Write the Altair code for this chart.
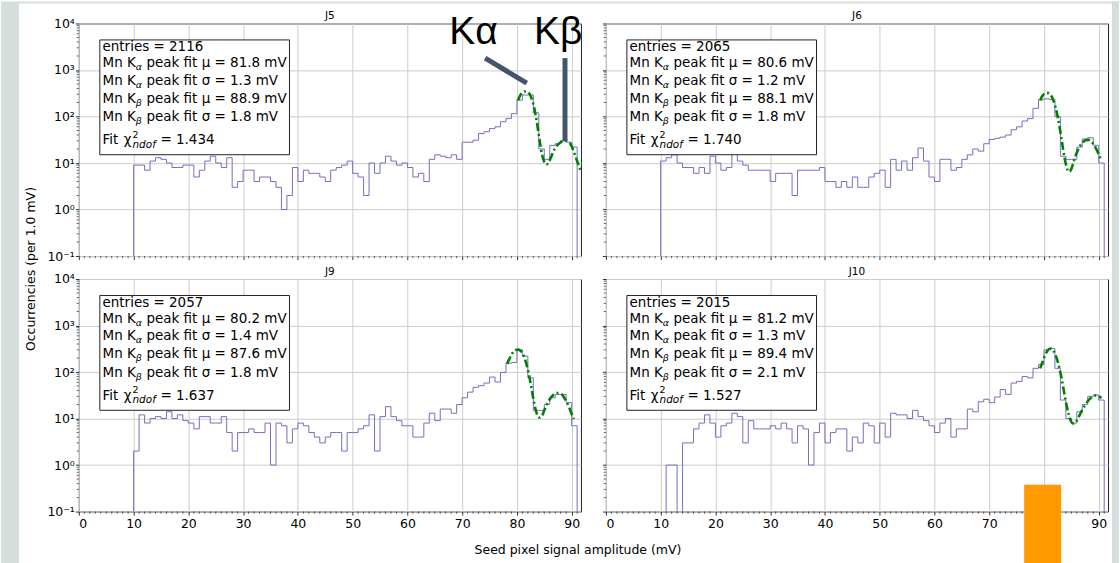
import altair as alt
import pandas as pd

# ---------------- data ----------------
panel_names = ["J5", "J6", "J9", "J10"]
first_bin = 10      # lower edge of first 1 mV bin
bin_width = 1.0

counts_J5 = [9, 9, 7, 11, 13, 12, 10, 8, 8, 9,
             9, 5, 7, 11, 14, 10, 8, 13, 3, 4,
             7, 7, 4, 5, 5, 4, 3, 1, 2, 8,
             4, 7, 6, 6, 5, 4, 7, 8, 9, 11,
             6, 5, 2, 10, 6, 10, 14, 11, 9, 10,
             8, 5, 6, 4, 12, 15, 14, 13, 15, 12,
             28, 28, 31, 43, 47, 55, 60, 77, 90, 115,
             225, 290, 290, 120, 20, 12, 24, 26, 30, 28,
             22]
counts_J6 = [11, 13, 15, 10, 8, 8, 6, 8, 6, 14,
             10, 7, 8, 16, 11, 9, 7, 7, 7, 7,
             4, 6, 6, 6, 2, 7, 7, 7, 7, 8,
             4, 4, 3, 4, 3, 5, 3, 3, 5, 6,
             7, 3, 12, 7, 11, 7, 13, 21, 11, 5,
             4, 12, 12, 7, 8, 12, 15, 20, 18, 26,
             32, 34, 36, 40, 52, 60, 80, 90, 150, 230,
             240, 230, 100, 14, 12, 12, 22, 33, 35, 24,
             10]
counts_J9 = [2, 12, 8, 10, 11, 10, 14, 10, 12, 9,
             8, 6, 11, 11, 8, 8, 11, 5, 2, 5,
             5, 6, 5, 5, 8, 1, 8, 7, 3, 6,
             8, 7, 5, 4, 3, 4, 5, 5, 2, 5,
             5, 6, 7, 12, 2, 11, 18, 11, 9, 7,
             7, 4, 4, 8, 13, 9, 16, 16, 13, 20,
             28, 37, 47, 51, 58, 78, 61, 98, 155, 160,
             300, 220, 75, 15, 15, 20, 28, 33, 33, 22,
             7]
counts_J10 = [0, 1, 1, 0, 3, 3, 6, 8, 12, 8,
              4, 7, 8, 13, 11, 3, 9, 6, 6, 6,
              7, 6, 8, 6, 3, 7, 6, 1, 5, 8,
              3, 5, 6, 6, 2, 4, 3, 8, 7, 3,
              8, 4, 13, 12, 12, 10, 15, 11, 9, 7,
              5, 8, 10, 4, 6, 6, 16, 14, 23, 26,
              22, 29, 42, 33, 58, 63, 80, 75, 120, 145,
              300, 320, 120, 25, 10, 8, 14, 20, 30, 32,
              25]

fit_x_J5 = [80.2, 80.6, 81.0, 81.4, 81.8, 82.2, 82.6, 83.0, 83.4, 83.8, 84.2, 84.6, 85.0, 85.4,
            85.8, 86.2, 86.6, 87.0, 87.5, 88.0, 88.5, 89.0, 89.5, 90.0, 90.5, 91.0, 91.7]
fit_y_J5 = [220, 285, 325, 345, 345, 320, 260, 185, 110, 58, 28, 15, 10.5, 9.3,
            10.5, 13, 17, 21, 25, 28, 30, 30, 28, 23, 16, 11, 6.5]
fit_x_J6 = [79.3, 79.7, 80.1, 80.5, 80.9, 81.3, 81.7, 82.1, 82.5, 82.9, 83.3, 83.7, 84.1, 84.5,
            84.9, 85.3, 85.7, 86.1, 86.6, 87.1, 87.6, 88.1, 88.6, 89.1, 89.6, 90.1, 90.5]
fit_y_J6 = [220, 275, 310, 322, 315, 285, 225, 160, 100, 55, 28, 14, 8.5, 6.5,
            7, 9.5, 13.5, 18, 23.5, 28, 31, 31.5, 29, 25, 19.5, 14.5, 11.5]
fit_x_J9 = [78.2, 78.6, 79.0, 79.4, 79.8, 80.2, 80.6, 81.0, 81.4, 81.8, 82.2, 82.6, 83.0, 83.4, 83.8,
            84.2, 84.6, 85.0, 85.4, 85.9, 86.4, 86.9, 87.4, 87.9, 88.4, 88.9, 89.4, 89.9, 90.4]
fit_y_J9 = [150, 190, 235, 275, 298, 305, 290, 255, 200, 140, 88, 50, 27, 16, 11.5,
            10.5, 11.5, 15, 19.5, 25, 30, 34, 35.5, 35, 31, 25, 19, 13.5, 9.8]
fit_x_J10 = [79.3, 79.7, 80.1, 80.5, 80.9, 81.3, 81.7, 82.1, 82.5, 82.9, 83.3, 83.7, 84.1, 84.5,
             84.9, 85.3, 85.7, 86.1, 86.6, 87.1, 87.6, 88.1, 88.6, 89.1, 89.6, 90.1, 90.5]
fit_y_J10 = [120, 160, 215, 270, 310, 318, 290, 235, 170, 110, 65, 36, 20, 12.5,
             9, 7.8, 8, 9.5, 12.5, 16, 20, 24.5, 28, 30.5, 31.5, 30, 27.5]

entries = [2116, 2065, 2057, 2015]
mu_alpha = ["81.8", "80.6", "80.2", "81.2"]
sigma_alpha = ["1.3", "1.2", "1.4", "1.3"]
mu_beta = ["88.9", "88.1", "87.6", "89.4"]
sigma_beta = ["1.8", "1.8", "1.8", "2.1"]
chi2 = ["1.434", "1.740", "1.637", "1.527"]

x_major = [0, 10, 20, 30, 40, 50, 60, 70, 80, 90]
x_minor = [v for v in range(1, 92) if v % 10]
y_major = [0.1, 1, 10, 100, 1000, 10000]
y_minor = [round(d * k, 6) for d in [0.1, 1, 10, 100, 1000] for k in range(2, 10)]

x_title = "Seed pixel signal amplitude (mV)"
y_title = "Occurrencies (per 1.0 mV)"

# ---------------- style ----------------
W, H = 503, 233
FONT = "DejaVu Sans"
HIST_COLOR = "#7070bd"
FIT_COLOR = "#008000"
GRID = "#cccccc"
STRIP = "#d5dedc"
ANNOT = "#44546a"
ORANGE = "#ff9900"

one = pd.DataFrame({"k": [0]})


def step_frame(counts):
    floor = 0.01
    xs = [first_bin] + [first_bin + k * bin_width for k in range(len(counts))] + [first_bin + len(counts) * bin_width]
    ys = [floor] + [c if c > 0 else floor for c in counts] + [floor]
    return pd.DataFrame({"x": xs, "y": ys, "i": list(range(len(xs)))})


def text_frames(i):
    TX = 23.7
    B = [28, 44, 61.5, 79.5, 98, 121]
    FS, FSS = 13.5, 9.5
    normal = [
        (TX, B[0], f"entries = {entries[i]}", FS),
        (TX, B[1], "Mn K", FS), (TX + 44, B[1], f"peak fit μ = {mu_alpha[i]} mV", FS),
        (TX, B[2], "Mn K", FS), (TX + 44, B[2], f"peak fit σ = {sigma_alpha[i]} mV", FS),
        (TX, B[3], "Mn K", FS), (TX + 44, B[3], f"peak fit μ = {mu_beta[i]} mV", FS),
        (TX, B[4], "Mn K", FS), (TX + 44, B[4], f"peak fit σ = {sigma_beta[i]} mV", FS),
        (TX, B[5], "Fit", FS), (TX + 21.3, B[5], "χ", FS), (TX + 30, B[5] - 6.5, "2", FSS),
        (TX + 58, B[5], f"= {chi2[i]}", FS),
    ]
    italic = [
        (TX + 33.2, B[1] + 3, "α", FSS),
        (TX + 33.2, B[2] + 3, "α", FSS),
        (TX + 33.2, B[3] + 3, "β", FSS),
        (TX + 33.2, B[4] + 3, "β", FSS),
        (TX + 30, B[5] + 3.5, "ndof", 10.5),
    ]
    cols = ["px", "py", "t", "fs"]
    return pd.DataFrame(normal, columns=cols), pd.DataFrame(italic, columns=cols)


ylabel_expr = ("datum.value < 0.5 ? '10⁻¹' : datum.value < 5 ? '10⁰' : datum.value < 50 ? '10¹' : "
               "datum.value < 500 ? '10²' : datum.value < 5000 ? '10³' : '10⁴'")


def fixed_rect(x1, x2, y1, y2, color):
    return alt.Chart(one).mark_rect(color=color).encode(
        x=alt.value(x1), x2=alt.value(x2), y=alt.value(y1), y2=alt.value(y2))


def make_panel(i, counts, fx, fy, show_x_labels, show_y_labels, before=(), after=()):
    xs = alt.Scale(domain=[0, 91.7], nice=False, zero=False)
    ys = alt.Scale(type="log", domain=[0.1, 10000], nice=False)
    xaxis = alt.Axis(values=x_major, labels=show_x_labels, title=None, grid=True, format="d",
                     orient="bottom", labelPadding=2)
    yaxis = alt.Axis(values=y_major, labels=show_y_labels, title=None, grid=True,
                     labelExpr=ylabel_expr, orient="left", labelPadding=1)

    hist = alt.Chart(step_frame(counts)).mark_line(
        interpolate="step-after", clip=True, color=HIST_COLOR, strokeWidth=1
    ).encode(x=alt.X("x:Q", scale=xs, axis=xaxis), y=alt.Y("y:Q", scale=ys, axis=yaxis),
             order=alt.Order("i:Q"))

    fit = alt.Chart(pd.DataFrame({"x": fx, "y": fy})).mark_line(
        interpolate="monotone", clip=True, color=FIT_COLOR, strokeWidth=2.6,
        strokeDash=[8, 3, 2, 3]
    ).encode(x=alt.X("x:Q", scale=xs, axis=xaxis), y=alt.Y("y:Q", scale=ys, axis=yaxis),
             order=alt.Order("x:Q"))

    xminor = alt.Chart(pd.DataFrame({"x": x_minor})).mark_rule(color="black", strokeWidth=0.6).encode(
        x=alt.X("x:Q", scale=xs, axis=xaxis), y=alt.value(H), y2=alt.value(H + 2.2))
    yminor = alt.Chart(pd.DataFrame({"y": y_minor})).mark_rule(color="black", strokeWidth=0.6).encode(
        y=alt.Y("y:Q", scale=ys, axis=yaxis), x=alt.value(0), x2=alt.value(-2.2))

    box = alt.Chart(one).mark_rect(fill="white", stroke="#222222", strokeWidth=1).encode(
        x=alt.value(21), x2=alt.value(211), y=alt.value(16.5), y2=alt.value(131.5))

    dn, di = text_frames(i)
    tnorm = alt.Chart(dn).mark_text(align="left", baseline="alphabetic", font=FONT, color="black").encode(
        x=alt.X("px:Q", scale=None), y=alt.Y("py:Q", scale=None),
        text="t:N", size=alt.Size("fs:Q", scale=None, legend=None))
    tital = alt.Chart(di).mark_text(align="left", baseline="alphabetic", font=FONT, color="black",
                                    fontStyle="italic").encode(
        x=alt.X("px:Q", scale=None), y=alt.Y("py:Q", scale=None),
        text="t:N", size=alt.Size("fs:Q", scale=None, legend=None))

    title = alt.Chart(one).mark_text(text=panel_names[i], font=FONT, fontSize=10.5, align="center",
                                     baseline="alphabetic", color="black").encode(
        x=alt.value(W / 2), y=alt.value(-4))

    layers = list(before) + [hist, fit, xminor, yminor, box, tnorm, tital, title] + list(after)
    return alt.layer(*layers).properties(width=W, height=H)


# ---- extras ----
strips = [
    fixed_rect(-78, -60, -22, 541, STRIP),
    fixed_rect(-60, 1042, -22, -20, STRIP),
    fixed_rect(1035, 1042, -22, 541, STRIP),
]

k_alpha_text = alt.Chart(one).mark_text(text="Kα", font="Liberation Sans", fontSize=39, align="left",
                                        baseline="alphabetic", color="black").encode(
    x=alt.value(371), y=alt.value(21))
k_beta_text = alt.Chart(one).mark_text(text="Kβ", font="Liberation Sans", fontSize=39, align="left",
                                       baseline="alphabetic", color="black").encode(
    x=alt.value(456), y=alt.value(21))
k_alpha_line = alt.Chart(one).mark_rule(color=ANNOT, strokeWidth=5, strokeCap="butt").encode(
    x=alt.value(407), y=alt.value(34.7), x2=alt.value(448.7), y2=alt.value(59.7))
k_beta_line = alt.Chart(one).mark_rule(color=ANNOT, strokeWidth=5, strokeCap="butt").encode(
    x=alt.value(487), y=alt.value(34.7), x2=alt.value(487), y2=alt.value(118))

ytitle = alt.Chart(one).mark_text(text=y_title, font=FONT, fontSize=12.5, angle=270, align="center",
                                  baseline="middle", color="black").encode(
    x=alt.value(-48), y=alt.value(246))
xtitle = alt.Chart(one).mark_text(text=x_title, font=FONT, fontSize=12.5, align="center",
                                  baseline="middle", color="black").encode(
    x=alt.value(500), y=alt.value(271))

orange = fixed_rect(419, 456, 206, 285, ORANGE)

p5 = make_panel(0, counts_J5, fit_x_J5, fit_y_J5, False, True, before=strips,
                after=[ytitle, k_alpha_text, k_beta_text, k_alpha_line, k_beta_line])
p6 = make_panel(1, counts_J6, fit_x_J6, fit_y_J6, False, False)
p9 = make_panel(2, counts_J9, fit_x_J9, fit_y_J9, True, True, after=[xtitle])
p10 = make_panel(3, counts_J10, fit_x_J10, fit_y_J10, True, False, after=[orange])

chart = alt.concat(p5, p6, p9, p10, columns=2, spacing={"row": 23, "column": 25}, bounds="flush").properties(
    padding=0, background="white"
).configure_view(
    stroke="#222222", strokeWidth=1
).configure_axis(
    labelFont=FONT, labelFontSize=12.5, labelColor="black", gridColor=GRID, gridWidth=1,
    tickColor="black", tickSize=3.5, tickWidth=0.8, domain=False
)

chart.save("out.html", embed_options={"renderer": "svg", "actions": False})
